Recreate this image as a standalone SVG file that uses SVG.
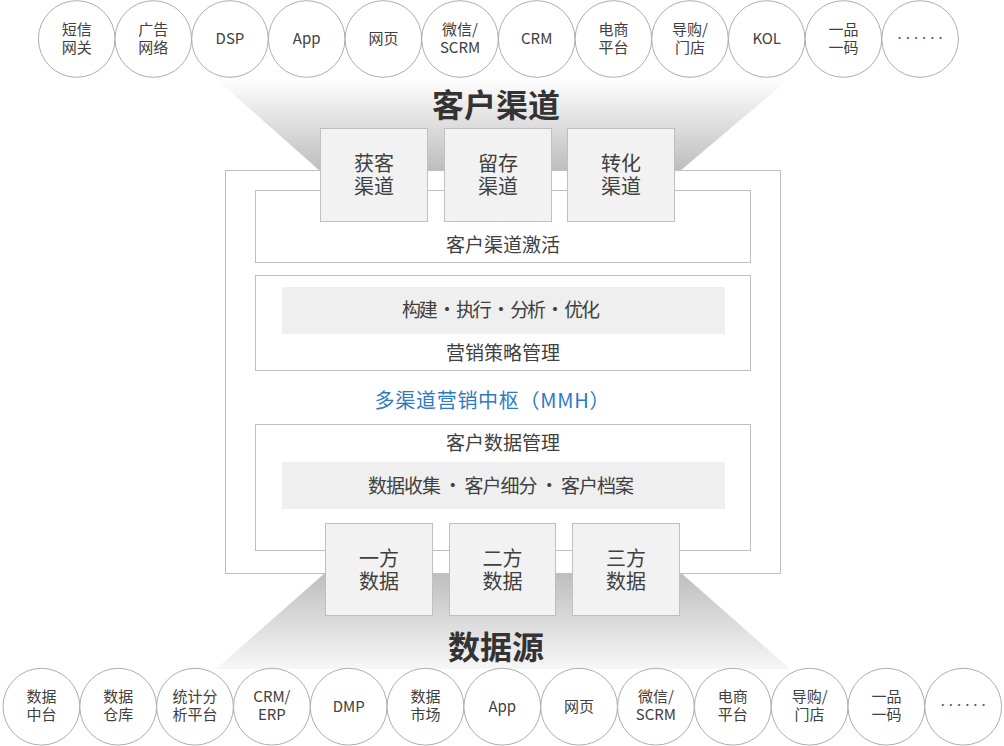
<svg xmlns="http://www.w3.org/2000/svg" width="1004" height="746" viewBox="0 0 1004 746">
<defs>
<linearGradient id="gTop" x1="0" y1="0" x2="0" y2="1">
<stop offset="0" stop-color="#ffffff"/>
<stop offset="1" stop-color="#bdbdbd"/>
</linearGradient>
<linearGradient id="gBot" x1="0" y1="0" x2="0" y2="1">
<stop offset="0" stop-color="#bdbdbd"/>
<stop offset="1" stop-color="#f7f7f7"/>
</linearGradient>
<style>
text { font-family: "Noto Sans CJK SC", "Microsoft YaHei", "Noto Sans", sans-serif; text-anchor: middle; fill: #404040; }
.c { fill: #ffffff; stroke: #adadad; stroke-width: 1; }
.ct { font-size: 15px; }
.dots { font-size: 15px; fill: #555555; }
.box { fill: #f2f2f2; stroke: #bfbfbf; stroke-width: 1; }
.frame { fill: #ffffff; stroke: #bfbfbf; stroke-width: 1; }
.bar { fill: #efefef; }
.bt { font-size: 20px; }
.mt { font-size: 19px; }
.title { font-size: 32px; font-weight: bold; fill: #333333; }
.blue { font-size: 20px; fill: #2e7bc4; }
</style>
</defs>
<rect width="1004" height="746" fill="#ffffff"/>

<g id="connectors">
<polygon id="funnel-top" points="215,78 790,78 680,171 320,171" fill="url(#gTop)"/>
<polygon id="funnel-bottom" points="326,572 680,572 790,669 216,669" fill="url(#gBot)"/>
</g>

<g id="channels-top">
<g id="ch-1"><circle class="c" cx="76.7" cy="39" r="38.3"/><text class="ct"><tspan x="76.7" y="34.7">短信</tspan><tspan x="76.7" y="52.7">网关</tspan></text></g>
<g id="ch-2"><circle class="c" cx="153.3" cy="39" r="38.3"/><text class="ct"><tspan x="153.3" y="34.7">广告</tspan><tspan x="153.3" y="52.7">网络</tspan></text></g>
<g id="ch-3"><circle class="c" cx="230" cy="39" r="38.3"/><text class="ct" x="230" y="44">DSP</text></g>
<g id="ch-4"><circle class="c" cx="306.7" cy="39" r="38.3"/><text class="ct" x="306.7" y="44">App</text></g>
<g id="ch-5"><circle class="c" cx="383.4" cy="39" r="38.3"/><text class="ct" x="383.4" y="44">网页</text></g>
<g id="ch-6"><circle class="c" cx="460" cy="39" r="38.3"/><text class="ct"><tspan x="460" y="34.7">微信/</tspan><tspan x="460" y="52.7">SCRM</tspan></text></g>
<g id="ch-7"><circle class="c" cx="536.7" cy="39" r="38.3"/><text class="ct" x="536.7" y="44">CRM</text></g>
<g id="ch-8"><circle class="c" cx="613.4" cy="39" r="38.3"/><text class="ct"><tspan x="613.4" y="34.7">电商</tspan><tspan x="613.4" y="52.7">平台</tspan></text></g>
<g id="ch-9"><circle class="c" cx="690" cy="39" r="38.3"/><text class="ct"><tspan x="690" y="34.7">导购/</tspan><tspan x="690" y="52.7">门店</tspan></text></g>
<g id="ch-10"><circle class="c" cx="766.7" cy="39" r="38.3"/><text class="ct" x="766.7" y="44">KOL</text></g>
<g id="ch-11"><circle class="c" cx="843.4" cy="39" r="38.3"/><text class="ct"><tspan x="843.4" y="34.7">一品</tspan><tspan x="843.4" y="52.7">一码</tspan></text></g>
<g id="ch-12"><circle class="c" cx="920.1" cy="39" r="38.3"/><text class="dots" x="920.1" y="38.8" textLength="45" lengthAdjust="spacing">......</text></g>
</g>

<g id="title-channels"><text class="title" x="496" y="117">客户渠道</text></g>

<g id="mmh">
<rect id="mmh-frame" class="frame" x="225.5" y="170.5" width="555" height="403"/>
<g id="activation"><rect class="frame" x="255.5" y="190.5" width="495" height="72"/><text class="mt" x="503" y="251.5">客户渠道激活</text></g>
<g id="strategy"><rect class="frame" x="255.5" y="275.5" width="495" height="95"/><rect class="bar" x="282" y="287" width="443" height="47"/><text class="mt" x="501" y="317" textLength="198" lengthAdjust="spacing">构建 · 执行 · 分析 · 优化</text><text class="mt" x="503" y="359.5">营销策略管理</text></g>
<g id="mmh-label"><text class="blue" x="492" y="407.5" textLength="235" lengthAdjust="spacing">多渠道营销中枢（MMH）</text></g>
<g id="data-mgmt"><rect class="frame" x="255.5" y="424.5" width="495" height="126"/><text class="mt" x="503" y="449.5">客户数据管理</text><rect class="bar" x="282" y="462" width="443" height="47"/><text class="mt" x="501" y="493" textLength="266" lengthAdjust="spacing">数据收集 · 客户细分 · 客户档案</text></g>
</g>

<g id="acquire"><rect class="box" x="320.5" y="128.5" width="107" height="93"/><text class="bt"><tspan x="374" y="170.5">获客</tspan><tspan x="374" y="193.5">渠道</tspan></text></g>
<g id="retain"><rect class="box" x="444.5" y="128.5" width="107" height="93"/><text class="bt"><tspan x="498" y="170.5">留存</tspan><tspan x="498" y="193.5">渠道</tspan></text></g>
<g id="convert"><rect class="box" x="567.5" y="128.5" width="107" height="93"/><text class="bt"><tspan x="621" y="170.5">转化</tspan><tspan x="621" y="193.5">渠道</tspan></text></g>

<g id="first-party"><rect class="box" x="325.5" y="523.5" width="107" height="92"/><text class="bt"><tspan x="379" y="566">一方</tspan><tspan x="379" y="589">数据</tspan></text></g>
<g id="second-party"><rect class="box" x="449.5" y="523.5" width="106" height="92"/><text class="bt"><tspan x="502.5" y="566">二方</tspan><tspan x="502.5" y="589">数据</tspan></text></g>
<g id="third-party"><rect class="box" x="572.5" y="523.5" width="107" height="92"/><text class="bt"><tspan x="626" y="566">三方</tspan><tspan x="626" y="589">数据</tspan></text></g>

<g id="title-sources"><text class="title" x="496" y="659">数据源</text></g>

<g id="sources-bottom">
<g id="ds-1"><circle class="c" cx="41.4" cy="706.7" r="38.4"/><text class="ct"><tspan x="41.4" y="702.2">数据</tspan><tspan x="41.4" y="720.2">中台</tspan></text></g>
<g id="ds-2"><circle class="c" cx="118.2" cy="706.7" r="38.4"/><text class="ct"><tspan x="118.2" y="702.2">数据</tspan><tspan x="118.2" y="720.2">仓库</tspan></text></g>
<g id="ds-3"><circle class="c" cx="195" cy="706.7" r="38.4"/><text class="ct"><tspan x="195" y="702.2">统计分</tspan><tspan x="195" y="720.2">析平台</tspan></text></g>
<g id="ds-4"><circle class="c" cx="271.9" cy="706.7" r="38.4"/><text class="ct"><tspan x="271.9" y="702.2">CRM/</tspan><tspan x="271.9" y="720.2">ERP</tspan></text></g>
<g id="ds-5"><circle class="c" cx="348.7" cy="706.7" r="38.4"/><text class="ct" x="348.7" y="711.5">DMP</text></g>
<g id="ds-6"><circle class="c" cx="425.5" cy="706.7" r="38.4"/><text class="ct"><tspan x="425.5" y="702.2">数据</tspan><tspan x="425.5" y="720.2">市场</tspan></text></g>
<g id="ds-7"><circle class="c" cx="502.3" cy="706.7" r="38.4"/><text class="ct" x="502.3" y="711.5">App</text></g>
<g id="ds-8"><circle class="c" cx="579.1" cy="706.7" r="38.4"/><text class="ct" x="579.1" y="711.5">网页</text></g>
<g id="ds-9"><circle class="c" cx="655.9" cy="706.7" r="38.4"/><text class="ct"><tspan x="655.9" y="702.2">微信/</tspan><tspan x="655.9" y="720.2">SCRM</tspan></text></g>
<g id="ds-10"><circle class="c" cx="732.8" cy="706.7" r="38.4"/><text class="ct"><tspan x="732.8" y="702.2">电商</tspan><tspan x="732.8" y="720.2">平台</tspan></text></g>
<g id="ds-11"><circle class="c" cx="809.6" cy="706.7" r="38.4"/><text class="ct"><tspan x="809.6" y="702.2">导购/</tspan><tspan x="809.6" y="720.2">门店</tspan></text></g>
<g id="ds-12"><circle class="c" cx="886.4" cy="706.7" r="38.4"/><text class="ct"><tspan x="886.4" y="702.2">一品</tspan><tspan x="886.4" y="720.2">一码</tspan></text></g>
<g id="ds-13"><circle class="c" cx="963.2" cy="706.7" r="38.4"/><text class="dots" x="963.2" y="706.4" textLength="45" lengthAdjust="spacing">......</text></g>
</g>
</svg>
